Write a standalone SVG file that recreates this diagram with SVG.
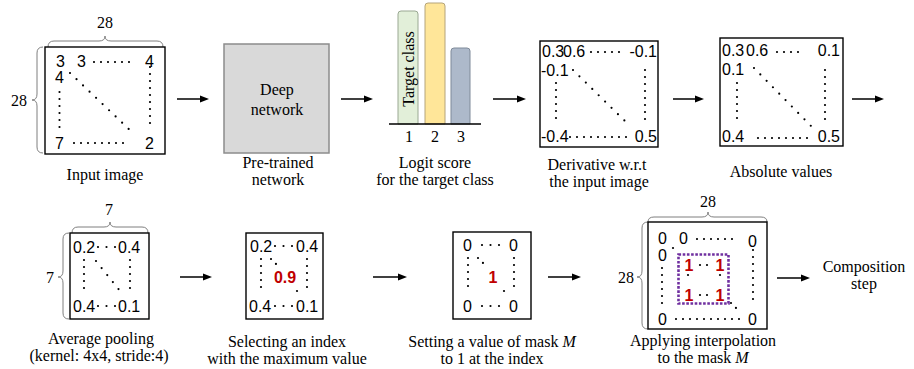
<svg xmlns="http://www.w3.org/2000/svg" width="914" height="369" viewBox="0 0 914 369">
<style>
.lbl{font-family:"Liberation Serif","Times New Roman",serif;font-size:16px;text-anchor:middle;fill:#000}
.it{font-style:italic}
.num{font-family:"Liberation Sans",Arial,sans-serif;font-size:16px;fill:#000}
.end{text-anchor:end}
.red{font-family:"Liberation Sans",Arial,sans-serif;font-size:16px;font-weight:bold;fill:#c00000;text-anchor:middle}
.dots{stroke:#000;stroke-width:2.2;stroke-linecap:round;stroke-dasharray:0 7;fill:none}
.dg{stroke-dasharray:0 9}
.d8{stroke-dasharray:0 8.5}
.box{fill:#fff;stroke:#000;stroke-width:1.4}
.brace{fill:none;stroke:#7f7f7f;stroke-width:1}
.conn{stroke:#000;stroke-width:1.5;fill:none;marker-end:url(#ah)}
</style>
<defs>
<marker id="ah" markerUnits="userSpaceOnUse" markerWidth="9" markerHeight="8" refX="6" refY="4" orient="auto">
<path d="M0,0.5 L9,4 L0,7.5 z" fill="#000"/>
</marker>
</defs>

<g id="input-image">
<path class="brace" d="M48,47 Q48,41 54,41 L99,41 Q105,41 105,36 Q105,41 111,41 L157,41 Q163,41 163,47"/>
<text class="lbl" x="105" y="28">28</text>
<path class="brace" d="M43,47 Q37,47 37,53 L37,94 Q37,100 32,100 Q37,100 37,106 L37,147 Q37,153 43,153"/>
<text class="lbl end" x="27" y="106">28</text>
<rect class="box" x="45" y="47" width="120" height="107"/>
<text class="num" x="56" y="67">3</text>
<text class="num" x="77" y="67">3</text>
<line class="dots" x1="94" y1="62" x2="131" y2="62"/>
<text class="num" x="145" y="67">4</text>
<text class="num" x="55" y="83">4</text>
<line class="dots" x1="59.5" y1="92" x2="59.5" y2="128"/>
<line class="dots dg" x1="70" y1="73" x2="134" y2="134"/>
<line class="dots" x1="150" y1="67" x2="150" y2="128"/>
<text class="num" x="55" y="149">7</text>
<line class="dots" x1="74" y1="143" x2="130" y2="143"/>
<text class="num" x="145" y="149">2</text>
<text class="lbl" x="105" y="180">Input image</text>
</g>

<g id="deep-network">
<rect x="224" y="44" width="105" height="109" fill="#d9d9d9" stroke="#8c8c8c" stroke-width="1.5"/>
<text class="lbl" x="277" y="95">Deep</text>
<text class="lbl" x="277" y="115">network</text>
<text class="lbl" x="278" y="168">Pre-trained</text>
<text class="lbl" x="278" y="185">network</text>
</g>

<g id="logit-score">
<path d="M398,124 L398,14 Q398,11 401,11 L415,11 Q418,11 418,14 L418,124 z" fill="#e2efd9" stroke="#9aa893" stroke-width="1"/>
<path d="M425,124 L425,6 Q425,3 428,3 L442,3 Q445,3 445,6 L445,124 z" fill="#ffe699" stroke="#b5a47a" stroke-width="1"/>
<path d="M451,124 L451,51 Q451,48 454,48 L467,48 Q470,48 470,51 L470,124 z" fill="#adb9ca" stroke="#7f8a99" stroke-width="1"/>
<line x1="389" y1="124" x2="481" y2="124" stroke="#000" stroke-width="1.5"/>
<text class="lbl" transform="translate(414,69) rotate(-90)" x="0" y="0">Target class</text>
<text class="lbl" x="409" y="142">1</text>
<text class="lbl" x="435" y="142">2</text>
<text class="lbl" x="461" y="142">3</text>
<text class="lbl" x="435" y="168">Logit score</text>
<text class="lbl" x="435" y="185">for the target class</text>
</g>

<g id="derivative">
<rect class="box" x="540" y="41" width="118" height="106"/>
<text class="num" x="542" y="57">0.3</text>
<text class="num" x="563" y="57">0.6</text>
<line class="dots" x1="591" y1="52" x2="620" y2="52"/>
<text class="num end" x="657" y="57">-0.1</text>
<text class="num" x="541" y="76">-0.1</text>
<line class="dots" x1="556" y1="83" x2="556" y2="121"/>
<line class="dots dg" x1="573" y1="70" x2="630" y2="126"/>
<line class="dots" x1="645" y1="70" x2="645" y2="124"/>
<text class="num" x="541" y="142">-0.4</text>
<line class="dots" x1="570" y1="137" x2="627" y2="137"/>
<text class="num end" x="657" y="142">0.5</text>
<text class="lbl" x="597" y="170">Derivative w.r.t</text>
<text class="lbl" x="599" y="187">the input image</text>
</g>

<g id="absolute">
<rect class="box" x="720" y="38" width="123" height="108"/>
<text class="num" x="722" y="56">0.3</text>
<text class="num" x="746" y="56">0.6</text>
<line class="dots" x1="777" y1="52" x2="805" y2="52"/>
<text class="num end" x="840" y="56">0.1</text>
<text class="num" x="722" y="75">0.1</text>
<line class="dots" x1="737" y1="83" x2="737" y2="121"/>
<line class="dots dg" x1="754" y1="68" x2="811" y2="126"/>
<line class="dots" x1="825" y1="70" x2="825" y2="123"/>
<text class="num" x="722" y="142">0.4</text>
<line class="dots" x1="758" y1="138" x2="808" y2="138"/>
<text class="num end" x="840" y="142">0.5</text>
<text class="lbl" x="781" y="177">Absolute values</text>
</g>

<g id="average-pooling">
<path class="brace" d="M72,233 Q72,227 78,227 L104,227 Q110,227 110,222 Q110,227 116,227 L142,227 Q148,227 148,233"/>
<text class="lbl" x="109" y="215">7</text>
<path class="brace" d="M69,233 Q63,233 63,239 L63,271 Q63,277 58,277 Q63,277 63,283 L63,313 Q63,319 69,319"/>
<text class="lbl" x="50" y="283">7</text>
<rect class="box" x="70" y="233" width="79" height="86"/>
<text class="num" x="73" y="253">0.2</text>
<line class="dots d8" x1="98" y1="247" x2="115.5" y2="247"/>
<text class="num" x="118" y="253">0.4</text>
<line class="dots" x1="84" y1="260" x2="84" y2="295"/>
<line class="dots dg" x1="96" y1="261" x2="120" y2="291"/>
<line class="dots" x1="130" y1="260" x2="130" y2="295"/>
<text class="num" x="73" y="312">0.4</text>
<line class="dots d8" x1="98" y1="306" x2="115.5" y2="306"/>
<text class="num" x="118" y="312">0.1</text>
<text class="lbl" x="101" y="344">Average pooling</text>
<text class="lbl" x="99" y="361">(kernel: 4x4, stride:4)</text>
</g>

<g id="select-index">
<rect class="box" x="246" y="233" width="77" height="86"/>
<text class="num" x="250" y="252">0.2</text>
<line class="dots d8" x1="275" y1="246" x2="292.5" y2="246"/>
<text class="num" x="296" y="252">0.4</text>
<line class="dots" x1="261" y1="259" x2="261" y2="294"/>
<line class="dots" x1="271" y1="259" x2="278" y2="266"/>
<line class="dots" x1="297" y1="291" x2="297" y2="292"/>
<line class="dots" x1="307" y1="259" x2="307" y2="294"/>
<text class="red" x="285" y="283">0.9</text>
<text class="num" x="249" y="312">0.4</text>
<line class="dots d8" x1="275" y1="306" x2="292.5" y2="306"/>
<text class="num" x="296" y="312">0.1</text>
<text class="lbl" x="287" y="347">Selecting an index</text>
<text class="lbl" x="287" y="364">with the maximum value</text>
</g>

<g id="set-mask">
<rect class="box" x="453" y="232" width="78" height="87"/>
<text class="num" x="463" y="251">0</text>
<line class="dots d8" x1="482" y1="245" x2="499.5" y2="245"/>
<text class="num" x="509" y="251">0</text>
<line class="dots" x1="468" y1="258" x2="468" y2="293"/>
<line class="dots" x1="478" y1="258" x2="484" y2="264"/>
<line class="dots" x1="504" y1="291" x2="504" y2="292"/>
<line class="dots" x1="514" y1="258" x2="514" y2="293"/>
<text class="red" x="493" y="283">1</text>
<text class="num" x="463" y="312">0</text>
<line class="dots d8" x1="482" y1="306" x2="499.5" y2="306"/>
<text class="num" x="509" y="312">0</text>
<text class="lbl" x="492" y="347">Setting a value of mask <tspan class="it">M</tspan></text>
<text class="lbl" x="492" y="364">to 1 at the index</text>
</g>

<g id="interpolation">
<path class="brace" d="M648,222 Q648,217 654,217 L702,217 Q708,217 708,212 Q708,217 714,217 L761,217 Q767,217 767,222"/>
<text class="lbl" x="708" y="207">28</text>
<path class="brace" d="M648,222 Q642,222 642,228 L642,271 Q642,277 637,277 Q642,277 642,283 L642,323 Q642,329 648,329"/>
<text class="lbl end" x="634" y="283">28</text>
<rect class="box" x="648" y="222" width="119" height="107"/>
<text class="num" x="658" y="244">0</text>
<text class="num" x="679" y="244">0</text>
<line class="dots" x1="697" y1="239" x2="733" y2="239"/>
<text class="num" x="748" y="247">0</text>
<text class="num" x="658" y="261">0</text>
<line class="dots" x1="673" y1="248" x2="673" y2="249"/>
<line class="dots" x1="662" y1="268" x2="662" y2="305"/>
<line class="dots" x1="753" y1="250" x2="753" y2="300"/>
<rect x="678.5" y="254.5" width="50" height="49" fill="none" stroke="#7030a0" stroke-width="2.6" stroke-dasharray="2.6 1.6"/>
<text class="red" x="689" y="271">1</text>
<text class="red" x="720" y="271">1</text>
<text class="red" x="689" y="301">1</text>
<text class="red" x="720" y="301">1</text>
<line class="dots" x1="700" y1="265" x2="708" y2="265"/>
<line class="dots" x1="700" y1="295" x2="708" y2="295"/>
<line class="dots" x1="688" y1="275" x2="688" y2="282"/>
<line class="dots" x1="720" y1="275" x2="720" y2="282"/>
<line class="dots" x1="731" y1="303" x2="737" y2="309"/>
<text class="num" x="658" y="325">0</text>
<line class="dots" x1="676" y1="319" x2="740" y2="319"/>
<text class="num" x="748" y="325">0</text>
<text class="lbl" x="703" y="346">Applying interpolation</text>
<text class="lbl" x="703" y="363">to the mask <tspan class="it">M</tspan></text>
</g>

<g id="composition">
<text class="lbl" x="864" y="272">Composition</text>
<text class="lbl" x="864" y="289">step</text>
</g>

<g id="connectors">
<line class="conn" x1="177" y1="99" x2="206" y2="99"/>
<line class="conn" x1="341" y1="99" x2="370" y2="99"/>
<line class="conn" x1="493" y1="99" x2="523" y2="99"/>
<line class="conn" x1="673" y1="99" x2="701" y2="99"/>
<line class="conn" x1="852" y1="99" x2="881" y2="99"/>
<line class="conn" x1="180" y1="277" x2="209" y2="277"/>
<line class="conn" x1="373" y1="277" x2="404" y2="277"/>
<line class="conn" x1="548" y1="277" x2="578" y2="277"/>
<line class="conn" x1="777" y1="278" x2="807" y2="278"/>
</g>
</svg>
